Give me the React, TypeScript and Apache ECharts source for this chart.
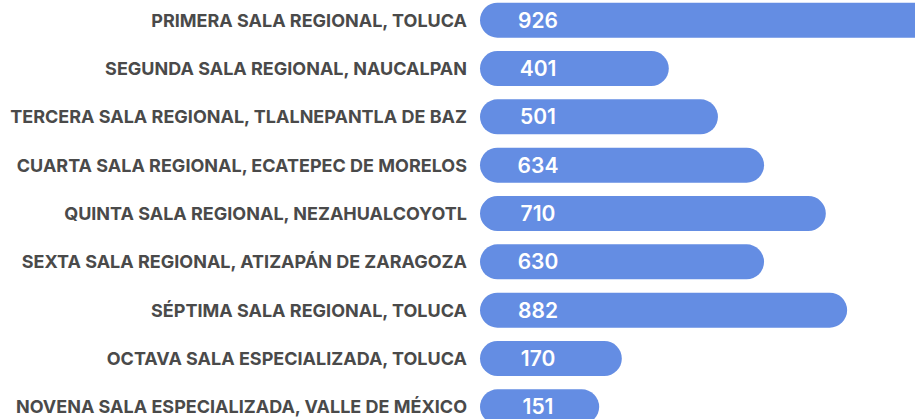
import React, { useEffect, useRef } from "react";
import * as echarts from "echarts";

const categories = [
  "PRIMERA SALA REGIONAL, TOLUCA",
  "SEGUNDA SALA REGIONAL, NAUCALPAN",
  "TERCERA SALA REGIONAL, TLALNEPANTLA DE BAZ",
  "CUARTA SALA REGIONAL, ECATEPEC DE MORELOS",
  "QUINTA SALA REGIONAL, NEZAHUALCOYOTL",
  "SEXTA SALA REGIONAL, ATIZAPÁN DE ZARAGOZA",
  "SÉPTIMA SALA REGIONAL, TOLUCA",
  "OCTAVA SALA ESPECIALIZADA, TOLUCA",
  "NOVENA SALA ESPECIALIZADA, VALLE DE MÉXICO",
];

// Numbers printed on the bars
const counts = [926, 401, 501, 634, 710, 630, 882, 170, 151];

// Bar lengths as drawn in the picture (relative scale; 1000 ≈ right edge of the view)
const barLengths = [1150, 434, 547, 653, 795, 653, 844, 326, 274];

export default function App() {
  const ref = useRef<HTMLDivElement>(null);

  useEffect(() => {
    if (!ref.current) return;
    const chart = echarts.init(ref.current, undefined, { renderer: "svg" });
    chart.setOption({
      animation: false,
      grid: { left: 480, right: 0, top: 0, bottom: 0, containLabel: false },
      xAxis: {
        type: "value",
        min: 0,
        max: 1200,
        show: false,
        splitLine: { show: false },
      },
      yAxis: {
        type: "category",
        inverse: true,
        data: categories,
        axisLine: { show: false },
        axisTick: { show: false },
        splitLine: { show: false },
        axisLabel: {
          margin: 13,
          color: "#4a4a4a",
          fontFamily: "Inter",
          fontWeight: 700,
          fontSize: 18,
        },
      },
      series: [
        {
          type: "bar",
          data: barLengths,
          barWidth: 35,
          clip: false,
          itemStyle: { color: "#648DE3", borderRadius: 17.5 },
          label: {
            show: true,
            position: [58, "50%"],
            align: "center",
            verticalAlign: "middle",
            color: "#ffffff",
            fontFamily: "Inter",
            fontWeight: 600,
            fontSize: 21,
            formatter: (p: any) => String(counts[p.dataIndex]),
          },
        },
      ],
    });
    return () => chart.dispose();
  }, []);

  return (
    <div
      style={{ position: "absolute", left: 0, top: 0, width: 915, height: 419, background: "#ffffff", overflow: "hidden" }}
    >
      <div ref={ref} style={{ position: "absolute", left: 0, top: -4, width: 1002, height: 435 }} />
    </div>
  );
}
